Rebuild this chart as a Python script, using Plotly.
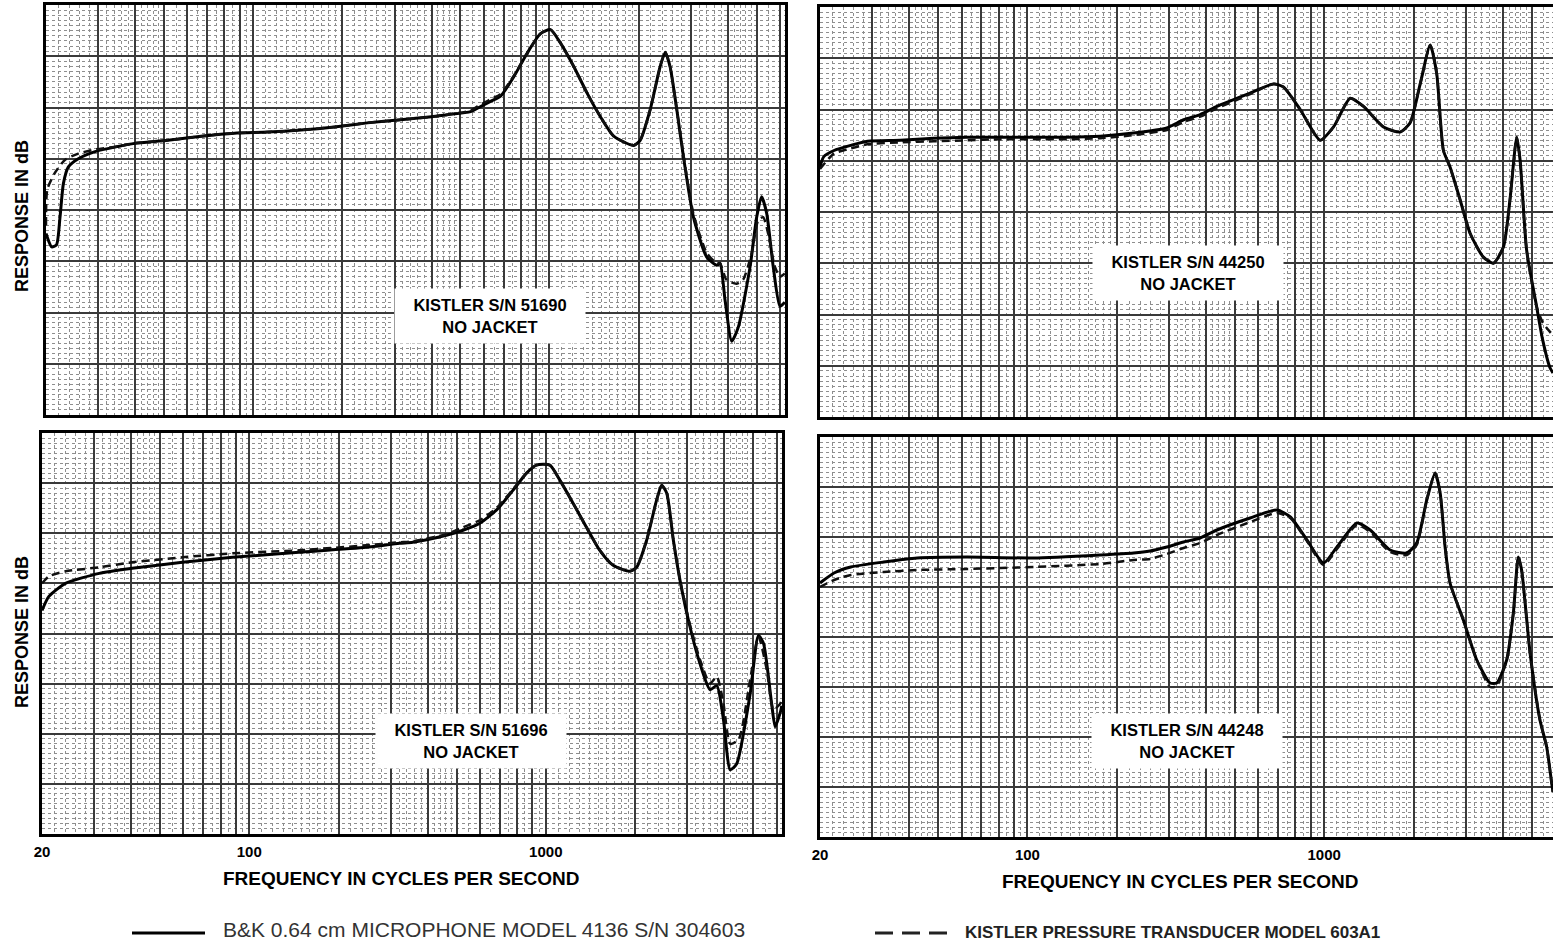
import plotly.graph_objects as go
import math

# ---------------- DATA (Hz, dB) ----------------
# Top-left panel: KISTLER S/N 51690
tl_solid_f = [20, 20.9, 21.7, 22.3, 22.9, 23.8, 25.7, 29.3, 35, 39.8, 51.6, 66.8, 86.5, 112, 145, 188, 243, 315, 400,
              452, 542, 586, 633, 684, 758, 841, 933, 1008, 1089, 1208, 1340, 1486, 1648, 1924, 2024, 2188, 2364,
              2459, 2553, 2690, 2833, 3062, 3396, 3671, 3765, 3915, 4123, 4342, 4757, 5004, 5200, 5408, 5690, 5998, 6230]
tl_solid_db = [17.7, 16.4, 16.6, 19.3, 22.6, 24.2, 25.0, 25.7, 26.2, 26.5, 26.8, 27.2, 27.5, 27.6, 27.8, 28.1, 28.5, 28.8, 29.1,
               29.3, 29.6, 30.1, 30.6, 31.1, 33.0, 35.3, 37.2, 37.6, 36.3, 34.0, 31.4, 29.1, 27.2, 26.3, 26.8, 29.8, 34.0,
               35.4, 34.0, 29.8, 25.2, 19.3, 15.4, 14.6, 14.8, 11.2, 7.2, 8.6, 14.5, 19.3, 21.3, 19.7, 14.5, 10.6, 11.0]
tl_dash_f = [20, 20.2, 21.4, 23.2, 25.7, 29.3, 35, 39.8, 51.6, 66.8, 86.5, 112, 145, 188, 243, 315, 400,
             452, 542, 586, 633, 684, 758, 841, 933, 1008, 1089, 1208, 1340, 1486, 1648, 1924, 2024, 2188, 2364,
             2459, 2553, 2690, 2833, 3062, 3396, 3671, 3765, 3956, 4273, 4501, 4818, 5063, 5262, 5473, 5760, 5998, 6230]
tl_dash_db = [18.5, 22.0, 23.6, 24.9, 25.5, 25.9, 26.2, 26.5, 26.8, 27.2, 27.5, 27.6, 27.8, 28.1, 28.5, 28.8, 29.1,
              29.3, 29.7, 30.3, 30.8, 31.3, 33.1, 35.3, 37.2, 37.6, 36.3, 34.0, 31.4, 29.1, 27.2, 26.3, 26.8, 29.8, 34.0,
              35.4, 34.0, 29.8, 25.4, 19.6, 15.8, 14.8, 14.8, 13.2, 12.8, 13.2, 15.8, 19.0, 19.3, 17.7, 14.5, 13.5, 13.8]

# Top-right panel: KISTLER S/N 44250
tr_solid_f = [20, 20.6, 22.3, 25.4, 28.9, 37.3, 48.4, 62.6, 81, 105, 136, 176, 228, 295, 336, 382, 435, 563, 675, 729,
              830, 969, 1075, 1224, 1357, 1584, 1803, 1948, 2106, 2276, 2394, 2522, 2655, 2870, 3104, 3439, 3718, 4019,
              4227, 4453, 4571, 4809, 5195, 5450, 5766, 5900]
tr_solid_db = [24.4, 25.4, 26.0, 26.5, 26.9, 27.0, 27.2, 27.3, 27.3, 27.3, 27.3, 27.4, 27.7, 28.2, 29.0, 29.5, 30.3, 31.6, 32.5, 32.2,
               30.0, 27.0, 28.3, 31.1, 30.3, 28.3, 27.8, 28.7, 32.5, 36.3, 33.5, 26.0, 24.4, 21.2, 17.9, 15.6, 15.0, 16.6,
               21.2, 27.3, 25.1, 16.3, 10.8, 7.5, 4.8, 4.3]
tr_dash_f = [20, 22.3, 25.4, 28.9, 37.3, 48.4, 62.6, 81, 105, 136, 176, 228, 295, 336, 382, 435, 563, 675, 729,
             830, 969, 1075, 1224, 1357, 1584, 1803, 1948, 2106, 2276, 2394, 2522, 2655, 2870, 3104, 3439, 3718, 4019,
             4227, 4453, 4571, 4809, 5195, 5450, 5766, 5900]
tr_dash_db = [24.2, 25.7, 26.2, 26.6, 26.8, 26.9, 27.0, 27.1, 27.1, 27.1, 27.2, 27.5, 28.0, 28.8, 29.3, 30.1, 31.5, 32.5, 32.2,
              30.0, 27.0, 28.3, 31.1, 30.3, 28.3, 27.8, 28.7, 32.5, 36.3, 33.5, 26.0, 24.4, 21.2, 17.9, 15.6, 15.0, 16.6,
              21.2, 27.3, 25.1, 16.3, 10.8, 9.2, 8.3, 8.0]

# Bottom-left panel: KISTLER S/N 51696
bl_solid_f = [20, 21.1, 24.0, 31.2, 40.3, 59.5, 87.8, 147, 248, 321, 356, 462, 526, 599, 681, 776, 861, 930, 1032, 1115,
              1236, 1371, 1521, 1687, 1921, 2024, 2188, 2364, 2459, 2558, 2693, 2836, 3062, 3311, 3580, 3773, 3974,
              4188, 4404, 4889, 5214, 5423, 5776, 5937, 6174, 6250]
bl_solid_db = [22.3, 23.7, 25.0, 26.0, 26.5, 27.1, 27.6, 28.1, 28.6, 29.0, 29.1, 29.8, 30.3, 31.0, 32.3, 34.3, 36.0, 36.8, 36.8, 35.3,
               33.0, 30.6, 28.3, 26.8, 26.2, 26.6, 29.3, 33.3, 34.8, 34.0, 29.3, 25.3, 20.7, 17.0, 14.4, 14.8, 11.4,
               6.4, 7.0, 14.0, 19.8, 19.0, 13.0, 10.7, 12.1, 12.8]
bl_dash_f = [20, 21.1, 24.0, 31.2, 40.3, 59.5, 87.8, 147, 248, 321, 356, 462, 526, 599, 681, 776, 861, 930, 1032, 1115,
             1236, 1371, 1521, 1687, 1921, 2024, 2188, 2364, 2459, 2558, 2693, 2836, 3062, 3311, 3580, 3773, 3974,
             4188, 4467, 4889, 5214, 5561, 5856, 6174, 6250]
bl_dash_db = [25.0, 25.7, 26.2, 26.6, 27.1, 27.6, 28.0, 28.3, 28.8, 29.1, 29.2, 29.9, 30.6, 31.3, 32.5, 34.4, 36.0, 36.8, 36.8, 35.3,
              33.0, 30.6, 28.3, 26.8, 26.2, 26.6, 29.3, 33.3, 34.8, 34.0, 29.3, 25.3, 20.9, 17.4, 15.0, 15.7, 13.0,
              9.0, 9.4, 15.4, 19.7, 16.4, 12.4, 13.0, 13.5]

# Bottom-right panel: KISTLER S/N 44248
br_solid_f = [20, 22.3, 25.4, 32.8, 42.5, 62.6, 105, 176, 228, 259, 295, 336, 382, 435, 563, 693, 769, 875, 995, 1104,
              1289, 1429, 1668, 1897, 2050, 2216, 2364, 2459, 2555, 2655, 2944, 3266, 3622, 3813, 4120, 4339, 4509,
              4626, 4940, 5334, 5620, 5841, 5900]
br_solid_db = [25.4, 26.4, 27.0, 27.5, 27.9, 28.0, 27.9, 28.2, 28.4, 28.6, 29.0, 29.5, 29.9, 30.7, 31.9, 32.7, 32.0, 29.7, 27.4, 29.0,
               31.4, 30.7, 28.7, 28.4, 29.4, 33.7, 36.4, 34.4, 29.0, 25.4, 21.7, 17.7, 15.4, 15.4, 17.7, 22.4, 28.0,
               26.7, 18.4, 11.7, 9.0, 5.4, 4.5]
br_dash_f = [20, 22.3, 25.4, 32.8, 42.5, 62.6, 105, 176, 228, 259, 295, 336, 382, 435, 563, 693, 769, 875, 995, 1104,
             1289, 1429, 1668, 1897, 2050, 2216, 2364, 2459, 2555, 2655, 2944, 3266, 3622, 3813, 4120, 4339, 4509,
             4626, 4940, 5334, 5620, 5841, 5900]
br_dash_db = [25.0, 25.7, 26.2, 26.5, 26.7, 26.8, 27.0, 27.3, 27.7, 27.8, 28.3, 28.9, 29.4, 30.2, 31.5, 32.4, 31.9, 29.6, 27.2, 28.8,
              31.2, 30.5, 28.5, 28.2, 29.2, 33.7, 36.4, 34.4, 29.0, 25.4, 21.7, 17.7, 15.0, 15.1, 17.7, 22.4, 28.0,
              26.7, 18.4, 11.7, 9.0, 5.4, 4.5]

panel_labels = ["KISTLER S/N 51690<br>NO JACKET", "KISTLER S/N 44250<br>NO JACKET",
                "KISTLER S/N 51696<br>NO JACKET", "KISTLER S/N 44248<br>NO JACKET"]
tick_labels = {20: "20", 100: "100", 1000: "1000"}
x_title = "FREQUENCY IN CYCLES PER SECOND"
y_title = "RESPONSE IN dB"
legend_solid = "B&K 0.64 cm MICROPHONE MODEL 4136 S/N 304603"
legend_dash = "KISTLER PRESSURE TRANSDUCER MODEL 603A1"

# ---------------- LAYOUT ----------------
W, H = 1553, 951
FONT = "Liberation Sans, Arial, Helvetica, sans-serif"


def fx(p):
    return p / W


def fy(p):
    return 1 - p / H


major_x = []
for dec in (10, 100, 1000):
    for m in range(1, 10):
        v = m * dec
        if 20 <= v <= 6300:
            major_x.append(v)
minor_x = []
for dec in (10, 100, 1000):
    for start, stop, step in ((1, 2, 0.1), (2, 5, 0.2), (5, 10, 0.5)):
        k = start
        while k < stop - 1e-9:
            v = round(k * dec, 3)
            if 20 <= v <= 6300 and abs(v / dec - round(v / dec)) > 1e-6:
                minor_x.append(v)
            k += step

MAJOR_GRID = "#3a3a3a"
MINOR_GRID = "#8e8e8e"

panels = [
    dict(xd=(46, 785), yd=(5, 415), xmax=math.log10(6237), labels=False, right=False),
    dict(xd=(820, 1553), yd=(7, 417), xmax=math.log10(5902), labels=False, right=True),
    dict(xd=(42, 782), yd=(433, 834), xmax=math.log10(6260), labels=True, right=False),
    dict(xd=(820, 1553), yd=(437, 837), xmax=math.log10(5902), labels=True, right=True),
]

fig = go.Figure()

series = [
    (tl_solid_f, tl_solid_db, tl_dash_f, tl_dash_db),
    (tr_solid_f, tr_solid_db, tr_dash_f, tr_dash_db),
    (bl_solid_f, bl_solid_db, bl_dash_f, bl_dash_db),
    (br_solid_f, br_solid_db, br_dash_f, br_dash_db),
]

layout = dict(width=W, height=H, margin=dict(l=0, r=0, t=0, b=0, pad=0, autoexpand=False),
              paper_bgcolor="white", plot_bgcolor="white", showlegend=False)

for i, (p, s) in enumerate(zip(panels, series)):
    n = "" if i == 0 else str(i + 1)
    xa, ya = "x" + n, "y" + n
    layout["xaxis" + n] = dict(
        type="log", domain=[fx(p["xd"][0]), fx(p["xd"][1])], range=[math.log10(20), p["xmax"]],
        anchor=ya, tickmode="array", tickvals=major_x, automargin=False,
        ticktext=[tick_labels.get(v, "") for v in major_x], showticklabels=p["labels"], ticks="",
        ticklabelstandoff=2,
        tickfont=dict(family=FONT, size=15, color="black", weight="bold"),
        showgrid=True, gridcolor=MAJOR_GRID, gridwidth=1.8,
        minor=dict(tickmode="array", tickvals=minor_x, showgrid=True, gridcolor=MINOR_GRID,
                   gridwidth=1, griddash="dot", ticks=""),
        showline=True, linecolor="black", linewidth=2.5, mirror=True, zeroline=False, fixedrange=True)
    layout["yaxis" + n] = dict(
        domain=[fy(p["yd"][1]), fy(p["yd"][0])], range=[0, 40], anchor=xa, automargin=False,
        tickmode="linear", tick0=0, dtick=5, showticklabels=False, ticks="",
        showgrid=True, gridcolor=MAJOR_GRID, gridwidth=1.8,
        minor=dict(tick0=0, dtick=0.5, showgrid=True, gridcolor=MINOR_GRID, gridwidth=1, griddash="dot", ticks=""),
        showline=True, linecolor="black", linewidth=2.5, mirror=not p["right"], zeroline=False, fixedrange=True)
    sf, sd, df, dd = s
    fig.add_trace(go.Scatter(x=sf, y=sd, mode="lines", xaxis=xa, yaxis=ya,
                             line=dict(color="black", width=3, shape="spline", smoothing=0.6),
                             name=legend_solid, hoverinfo="skip"))
    fig.add_trace(go.Scatter(x=df, y=dd, mode="lines", xaxis=xa, yaxis=ya,
                             line=dict(color="#111", width=2.5, dash="8px,5px", shape="spline", smoothing=0.6),
                             name=legend_dash, hoverinfo="skip"))

fig.update_layout(**layout)

annotations = []
box_centers = [(490, 316), (1188, 273), (471, 741), (1187, 741)]
for (cx, cy), txt in zip(box_centers, panel_labels):
    annotations.append(dict(x=fx(cx), y=fy(cy), xref="paper", yref="paper", xanchor="center", yanchor="middle",
                            text=txt, showarrow=False,
                            font=dict(family=FONT, size=16.5, color="black", weight="bold"),
                            bgcolor="white", width=178, height=42, borderpad=6, align="center"))

for cy in (216, 632):
    annotations.append(dict(x=fx(22), y=fy(cy), xref="paper", yref="paper", xanchor="center", yanchor="middle",
                            text=y_title, textangle=-90,
                            showarrow=False, font=dict(family=FONT, size=18, color="black", weight="bold")))
for cx, cy in ((401, 878), (1180, 881)):
    annotations.append(dict(x=fx(cx), y=fy(cy), xref="paper", yref="paper", xanchor="center", yanchor="middle",
                            text=x_title, showarrow=False,
                            font=dict(family=FONT, size=19, color="black", weight="bold")))

annotations.append(dict(x=fx(221), y=fy(929), xref="paper", yref="paper", xanchor="left", yanchor="middle",
                        text=legend_solid, showarrow=False, font=dict(family=FONT, size=21, color="#333")))
annotations.append(dict(x=fx(963), y=fy(932), xref="paper", yref="paper", xanchor="left", yanchor="middle",
                        text=legend_dash, showarrow=False,
                        font=dict(family=FONT, size=17, color="#222", weight="bold")))

shapes = [
    dict(type="line", xref="paper", yref="paper", x0=fx(132), x1=fx(205), y0=fy(933), y1=fy(933),
         line=dict(color="black", width=3)),
    dict(type="line", xref="paper", yref="paper", x0=fx(875), x1=fx(947), y0=fy(933), y1=fy(933),
         line=dict(color="#222", width=3, dash="18px,9px")),
]

fig.update_layout(annotations=annotations, shapes=shapes)
fig.write_html("out.html", config={"displayModeBar": False},
               post_script="document.body.style.margin='0px';document.body.style.overflow='hidden';")
